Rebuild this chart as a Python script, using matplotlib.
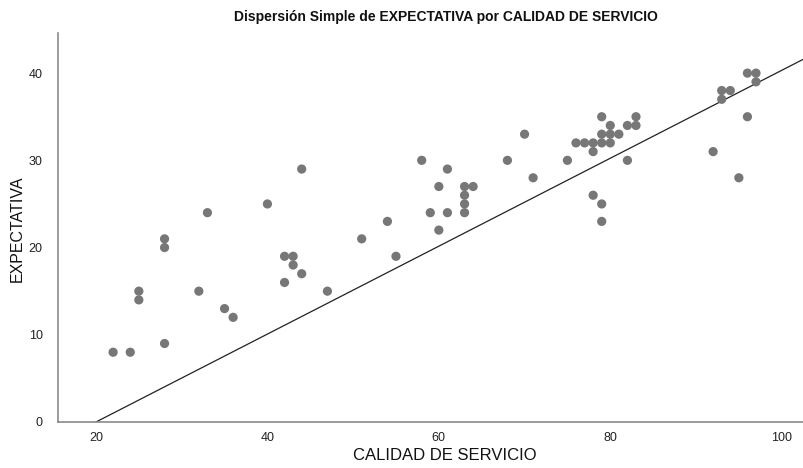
import matplotlib
matplotlib.use("Agg")
import matplotlib.pyplot as plt
import numpy as np

plt.rcParams['font.family'] = ['Liberation Sans', 'DejaVu Sans']

# Data: CALIDAD DE SERVICIO (x) vs EXPECTATIVA (y)
calidad = [22, 24, 25, 25, 28, 28, 28, 32, 33, 35, 36, 40, 42, 43, 43, 42, 44, 44, 47,
           51, 54, 55, 58, 59, 60, 60, 61, 61, 63, 63, 63, 63, 64, 68, 70, 71, 75,
           76, 77, 78, 78, 78, 79, 79, 79, 79, 79, 80, 80, 80, 81, 82, 82, 83, 83,
           92, 93, 93, 94, 95, 96, 96, 97, 97]
expectativa = [8, 8, 15, 14, 21, 20, 9, 15, 24, 13, 12, 25, 19, 19, 18, 16, 17, 29, 15,
               21, 23, 19, 30, 24, 27, 22, 29, 24, 27, 26, 25, 24, 27, 30, 33, 28, 30,
               32, 32, 32, 31, 26, 35, 33, 32, 25, 23, 34, 33, 32, 33, 34, 30, 35, 34,
               31, 38, 37, 38, 28, 40, 35, 40, 39]

# Reference line parameters
line_intercept = -10.08
line_slope = 0.504

x_ticks = [20, 40, 60, 80, 100]
y_ticks = [0, 10, 20, 30, 40]

title = "Dispersión Simple de EXPECTATIVA por CALIDAD DE SERVICIO"
xlabel = "CALIDAD DE SERVICIO"
ylabel = "EXPECTATIVA"

fig = plt.figure(figsize=(8.04, 4.68), dpi=100)
ax = fig.add_axes([58/804, 1-422/468, (804-58)/804, (422-33)/468])

xmin, xmax = 15.57, 102.6
ymin, ymax = 0, 44.6
ax.set_xlim(xmin, xmax)
ax.set_ylim(ymin, ymax)

ax.scatter(calidad, expectativa, s=44, color='#777777', edgecolors='none', zorder=3)

lx = np.array([20, xmax + 1])
ax.plot(lx, line_intercept + line_slope * lx, color='#222222', lw=0.9, zorder=2, clip_on=True)

for s in ['top', 'right']:
    ax.spines[s].set_visible(False)
for s in ['left', 'bottom']:
    ax.spines[s].set_color('#8a8a8a')
    ax.spines[s].set_linewidth(1.2)

ax.set_xticks(x_ticks)
ax.set_yticks(y_ticks)
ax.tick_params(axis='both', length=0, labelsize=9, colors='#222222', pad=7)
ax.tick_params(axis='y', pad=11)

fig.text(446/804, 1-17/468, title, ha='center', va='center', fontsize=10, fontweight='bold', color='#111111')
fig.text(445/804, 1-456/468, xlabel, ha='center', va='center', fontsize=12, color='#111111')
fig.text(17/804, 1-229/468, ylabel, ha='center', va='center', rotation=90, fontsize=11.5, color='#111111')

fig.savefig("out.png", dpi=100)
